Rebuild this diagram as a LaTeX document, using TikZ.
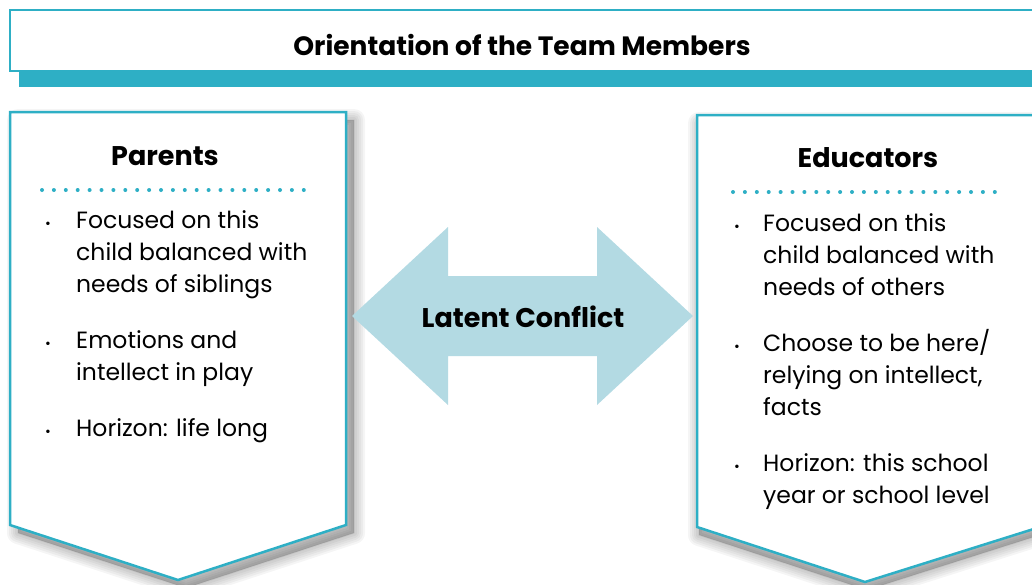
\documentclass[tikz,border=0pt]{standalone}
\usepackage{fontspec}
\setmainfont{Poppins}
\usepackage{tikz}
\usetikzlibrary{calc}
\definecolor{teal}{HTML}{2EAFC5}
\definecolor{paleblue}{HTML}{B3DAE3}
\tikzset{
    itemtext/.style={anchor=base west, align=left, inner sep=0pt, font=\fontsize{23.5}{32}\selectfont},
    itemdot/.style={anchor=base, inner sep=0pt, font=\fontsize{14}{14}\selectfont},
    headtext/.style={anchor=base, inner sep=0pt, font=\fontsize{27}{30}\selectfont\bfseries},
    dotline/.style={teal, line width=4pt, line cap=round, dash pattern=on 0pt off 11.9pt},
    shadowlayer/.style={black, opacity=0.04, line join=round}
}
\begin{document}
\begin{tikzpicture}[x=1pt, y=-1pt]
                \useasboundingbox (0,0) rectangle (1032,584);
                % title
                \fill [teal] (19,71) rectangle (1040,87);
                \draw [teal, line width=2.5pt, fill=white] (10,10) rectangle (1040,71);
                \node [headtext, font=\fontsize{26.5}{30}\selectfont\bfseries] (title) at (522,55) {Orientation of the Team Members};
                % shadows
                \foreach \w in {2,6,10,14,18,22}
                    \filldraw [shadowlayer, line width=\w pt] (18,120) -- (354,120) -- (354,533) -- (186,588) -- (18,533) -- cycle;
                \foreach \w in {2,6,10,14,18,22}
                    \filldraw [shadowlayer, line width=\w pt] (699,123) -- (1040,123) -- (1040,535) -- (867,590) -- (699,535) -- cycle;
                % boxes
                \draw [teal, line width=2.5pt, fill=white] (10,112) -- (346,112) -- (346,525) -- (178,580) -- (10,525) -- cycle;
                \draw [teal, line width=2.5pt, fill=white] (697,115) -- (1040,115) -- (1040,527) -- (865,582) -- (697,527) -- cycle;
                % double arrow
                \fill [paleblue] (352,316) -- (448,227) -- (448,276) -- (597,276) -- (597,227) -- (693,316)
                    -- (597,405) -- (597,356) -- (448,356) -- (448,405) -- cycle;
                \node [headtext] (conflict) at (523,327) {Latent Conflict};
                % parents
                \node [headtext] (parents) at (165,165) {Parents};
                \draw [dotline] (42,190) -- (305,190);
                \node [itemdot] (pdot1) at (48,228) {•};
                \node [itemtext] (pitem1) at (76,292) {Focused on this\\child balanced with\\needs of siblings};
                \node [itemdot] (pdot2) at (48,348) {•};
                \node [itemtext] (pitem2) at (76,380) {Emotions and\\intellect in play};
                \node [itemdot] (pdot3) at (48,436) {•};
                \node [itemtext] (pitem3) at (76,436) {Horizon: life long};
                % educators
                \node [headtext] (educators) at (868,167) {Educators};
                \draw [dotline] (733,192) -- (997,192);
                \node [itemdot] (edot1) at (737,231) {•};
                \node [itemtext] (eitem1) at (763,295) {Focused on this\\child balanced with\\needs of others};
                \node [itemdot] (edot2) at (737,351) {•};
                \node [itemtext] (eitem2) at (763,415) {Choose to be here/\\relying on intellect,\\facts};
                \node [itemdot] (edot3) at (737,471) {•};
                \node [itemtext] (eitem3) at (763,503) {Horizon: this school\\year or school level};
            \end{tikzpicture}
\end{document}
